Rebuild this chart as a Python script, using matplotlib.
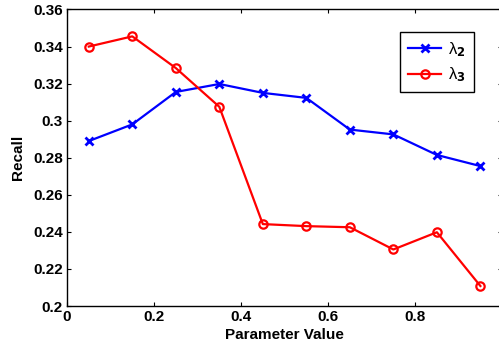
"""
Recall vs parameter value for lambda_2 / lambda_3 (MATLAB-style line plot)
"""

import matplotlib

matplotlib.use("Agg")
import matplotlib.pyplot as plt

matplotlib.rcParams.update(
    {
        "font.family": ["Liberation Sans", "DejaVu Sans", "sans-serif"],
        "font.size": 11,
        "font.weight": "bold",
        "mathtext.default": "regular",
        "axes.linewidth": 1.0,
        "xtick.direction": "in",
        "ytick.direction": "in",
        "xtick.top": True,
        "ytick.right": True,
        "xtick.major.size": 3,
        "ytick.major.size": 3,
    }
)

# ─── data ─────────────────────────────────
param = [0.05, 0.15, 0.25, 0.35, 0.45, 0.55, 0.65, 0.75, 0.85, 0.95]
recall_l2 = [0.289, 0.298, 0.3155, 0.3198, 0.3150, 0.3123, 0.2952, 0.2926, 0.2815, 0.2755]
recall_l3 = [0.340, 0.3455, 0.3284, 0.3075, 0.2442, 0.2431, 0.2425, 0.2305, 0.2398, 0.2108]

xticks = [0, 0.2, 0.4, 0.6, 0.8, 1]
xtick_labels = ["0", "0.2", "0.4", "0.6", "0.8", ""]  # "1" falls outside the crop
yticks = [0.2, 0.22, 0.24, 0.26, 0.28, 0.3, 0.32, 0.34, 0.36]
ytick_labels = ["0.2", "0.22", "0.24", "0.26", "0.28", "0.3", "0.32", "0.34", "0.36"]

fig = plt.figure(figsize=(4.99, 3.49), dpi=100)
fig.patch.set_facecolor("white")
ax = fig.add_axes([0.1343, 0.1232, 0.872, 0.8496])

ax.plot(param, recall_l2, color="#0000FF", lw=1.6, marker="x", ms=6, mew=2,
        label=r"$\lambda_{\mathbf{2}}$")
ax.plot(param, recall_l3, color="#FF0000", lw=1.6, marker="o", ms=6, mew=1.6,
        mfc="none", label=r"$\lambda_{\mathbf{3}}$")

ax.set_xlim(0, 1)
ax.set_ylim(0.2, 0.36)
ax.set_xticks(xticks)
ax.set_xticklabels(xtick_labels)
ax.set_yticks(yticks)
ax.set_yticklabels(ytick_labels)
ax.tick_params(pad=3)

ax.set_xlabel("Parameter Value", fontweight="bold", labelpad=3)
ax.set_ylabel("Recall", fontweight="bold", labelpad=6)

leg = ax.legend(
    loc="upper right",
    bbox_to_anchor=(474 / 499, 1 - 31.7 / 349),
    bbox_transform=fig.transFigure,
    borderaxespad=0,
    fancybox=False,
    edgecolor="black",
    handlelength=2.0,
    handletextpad=0.4,
    borderpad=0.5,
    labelspacing=0.4,
    framealpha=1,
    prop={"weight": "normal", "size": 12},
)
leg.get_frame().set_linewidth(1.0)

fig.savefig("out.png", dpi=100)
